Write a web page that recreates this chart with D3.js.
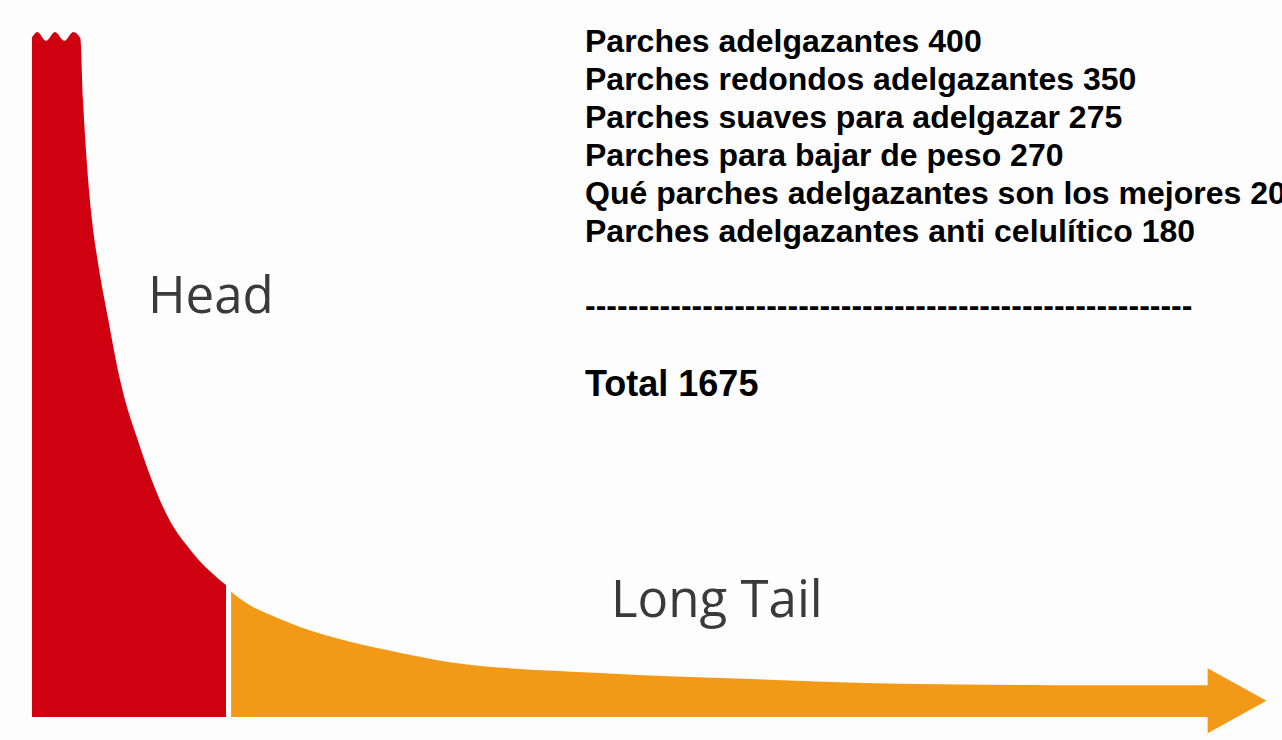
<!DOCTYPE html>
<html>
<head>
  <meta charset="utf-8">
  <script src="https://d3js.org/d3.v7.min.js"></script>
  <style>
    body { margin: 0; background: #fdfdfd; }
    svg { display: block; }
    .kw { font-family: "Liberation Sans", Arial, sans-serif; font-weight: bold; fill: #000; }
    .label { font-family: "Open Sans", sans-serif; fill: #3a3a3a; }
  </style>
</head>
<body>
<div id="area1"></div>
<script type="text/javascript">

  // keyword list with monthly searches
  var keywords = [
    "Parches adelgazantes",
    "Parches redondos adelgazantes",
    "Parches suaves para adelgazar",
    "Parches para bajar de peso",
    "Qué parches adelgazantes son los mejores",
    "Parches adelgazantes anti celulítico"
  ];
  var volumes = [400, 350, 275, 270, 200, 180];

  // the head of the curve: rank (% of keywords) vs relative demand
  var jagRank  = [0, 0.45, 1.2, 1.95, 2.75, 3.5, 4.1];
  var jagValue = [100.4, 101.2, 99.9, 101.2, 99.9, 101.2, 100.3];
  var headRank  = [4.33, 4.67, 5.09, 5.6, 6.45, 7.47, 9.17, 11.46, 13.67, 16.47];
  var headValue = [91.1, 81.5, 73.4, 67.1, 58.9, 49.8, 39.9, 29.8, 24.2, 19.5];

  // the long tail
  var tailRank  = [16.9, 18.5, 20.6, 22.75, 27, 31.2, 35.5, 48.2, 61, 73.7, 86.4, 100];
  var tailValue = [18.5, 16.5, 14.8, 13.3, 11.1, 9.5, 8.1, 6.5, 5.6, 4.9, 4.7, 4.7];

  // arrow head: base/tip rank, top/tip/bottom value
  var arrowRank  = [99.8, 104.8];
  var arrowValue = [7.2, 2.4, -2.4];

  var width = 1282,
      height = 740;

  var svg = d3.select("#area1")
    .append("svg")
    .attr("width", width)
    .attr("height", height);

  var x = d3.scaleLinear().domain([0, 100]).range([32, 1210]);
  var y = d3.scaleLinear().domain([0, 100]).range([717, 40]);

  var area = d3.area()
    .x(function(d) { return x(d[0]); })
    .y0(y(0))
    .y1(function(d) { return y(d[1]); })
    .curve(d3.curveMonotoneX);

  var head = d3.zip(jagRank.concat(headRank), jagValue.concat(headValue));
  var tail = d3.zip(tailRank, tailValue);

  svg.append("path")
    .datum(head)
    .attr("fill", "#cf0010")
    .attr("d", area);

  svg.append("path")
    .datum(tail)
    .attr("fill", "#f29a17")
    .attr("d", area);

  // arrow head at the end of the tail
  svg.append("path")
    .attr("fill", "#f29a17")
    .attr("d", d3.line()([
      [x(arrowRank[0]), y(arrowValue[0])],
      [x(arrowRank[1]), y(arrowValue[1])],
      [x(arrowRank[0]), y(arrowValue[2])]
    ]) + "Z");

  // curve labels
  svg.append("text")
    .attr("class", "label")
    .attr("x", 148)
    .attr("y", 313)
    .style("font-size", "51px")
    .text("Head");

  svg.append("text")
    .attr("class", "label")
    .attr("x", 611)
    .attr("y", 617)
    .style("font-size", "51px")
    .text("Long Tail");

  // keyword list
  svg.selectAll("text.kw-line")
    .data(keywords)
    .enter().append("text")
    .attr("class", "kw kw-line")
    .attr("x", 585)
    .attr("y", function(d, i) { return 52 + i * 38; })
    .style("font-size", "32px")
    .text(function(d, i) { return d + " " + volumes[i]; });

  svg.append("text")
    .attr("class", "kw")
    .attr("x", 585)
    .attr("y", 316)
    .style("font-size", "32px")
    .text("-".repeat(57));

  svg.append("text")
    .attr("class", "kw")
    .attr("x", 585)
    .attr("y", 396)
    .style("font-size", "36px")
    .text("Total " + d3.sum(volumes));

</script>
</body>
</html>
